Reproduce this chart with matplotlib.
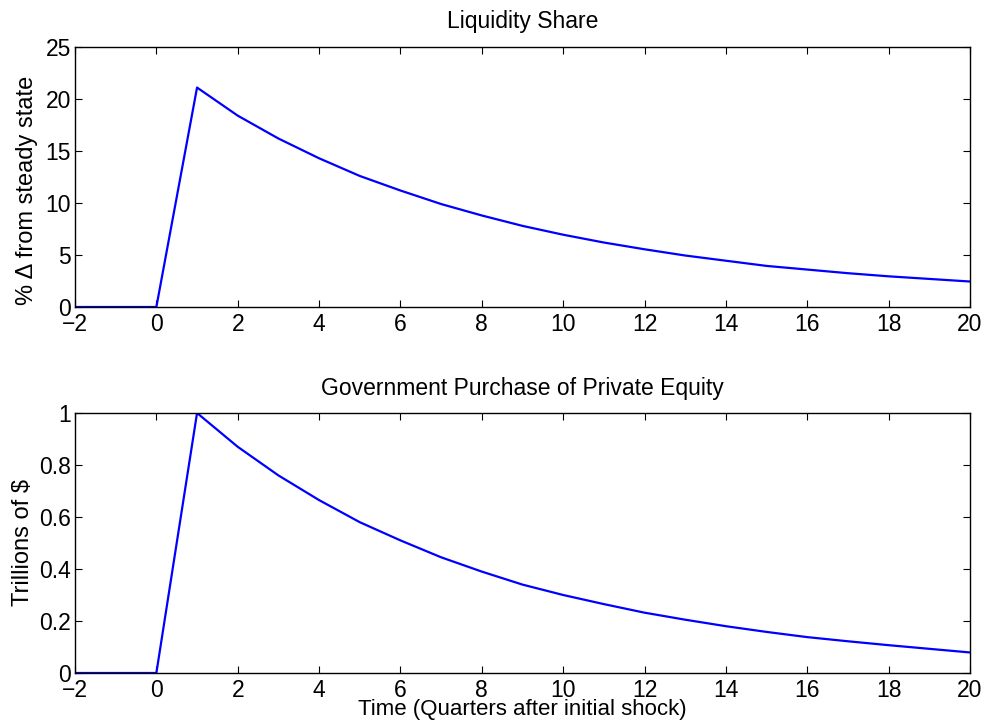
import numpy as np
import matplotlib
matplotlib.use('Agg')
import matplotlib.pyplot as plt

plt.rcParams['font.family'] = ['Liberation Sans', 'DejaVu Sans']

quarters = list(range(-2, 21))
liquidity_share = [0, 0, 0, 21.1, 18.4, 16.2, 14.3, 12.6, 11.2, 9.9, 8.8, 7.8,
                   6.95, 6.2, 5.55, 4.95, 4.45, 3.95, 3.6, 3.25, 2.95, 2.7, 2.45]
gov_equity = [0, 0, 0, 1.0, 0.87, 0.76, 0.665, 0.58, 0.51, 0.445, 0.39, 0.34,
              0.30, 0.265, 0.232, 0.205, 0.18, 0.158, 0.138, 0.122, 0.107, 0.093, 0.079]

top_yticks = [0, 5, 10, 15, 20, 25]
bot_yticks = [0, 0.2, 0.4, 0.6, 0.8, 1]
bot_yticklabels = ['0', '0.2', '0.4', '0.6', '0.8', '1']
xticks = list(range(-2, 21, 2))
xticklabels = [str(t).replace('-', '\u2212') for t in xticks]

fig = plt.figure(figsize=(9.85, 7.21), dpi=100)
W, H = 985, 721
ax1 = fig.add_axes([75 / W, 1 - 307 / H, 895 / W, 260 / H])
ax2 = fig.add_axes([75 / W, 1 - 673 / H, 895 / W, 260 / H])


def style(ax):
    ax.set_xlim(-2, 20)
    ax.set_xticks(xticks)
    ax.set_xticklabels(xticklabels)
    ax.tick_params(direction='in', top=True, right=True, length=5, width=0.8,
                   labelsize=16.5)
    ax.tick_params(axis='x', pad=4)
    ax.tick_params(axis='y', pad=3)
    for s in ax.spines.values():
        s.set_linewidth(1.0)


ax1.plot(quarters, liquidity_share, color='#0000ff', lw=1.6)
style(ax1)
ax1.set_ylim(0, 25)
ax1.set_yticks(top_yticks)
ax1.set_title('Liquidity Share', fontsize=16.5, pad=13.5)
ax1.set_ylabel('% \u0394 from steady state', fontsize=17)
ax1.yaxis.set_label_coords(-0.041, 0.45)

ax2.plot(quarters, gov_equity, color='#0000ff', lw=1.6)
style(ax2)
ax2.set_ylim(0, 1)
ax2.set_yticks(bot_yticks)
ax2.set_yticklabels(bot_yticklabels)
ax2.set_title('Government Purchase of Private Equity', fontsize=16.5, pad=13)
ax2.set_ylabel('Trillions of \\$', fontsize=17)
ax2.yaxis.set_label_coords(-0.046, 0.5)
ax2.set_xlabel('Time (Quarters after initial shock)', fontsize=16)
ax2.xaxis.set_label_coords(0.5, -0.099)

fig.savefig('out.png', dpi=100)
